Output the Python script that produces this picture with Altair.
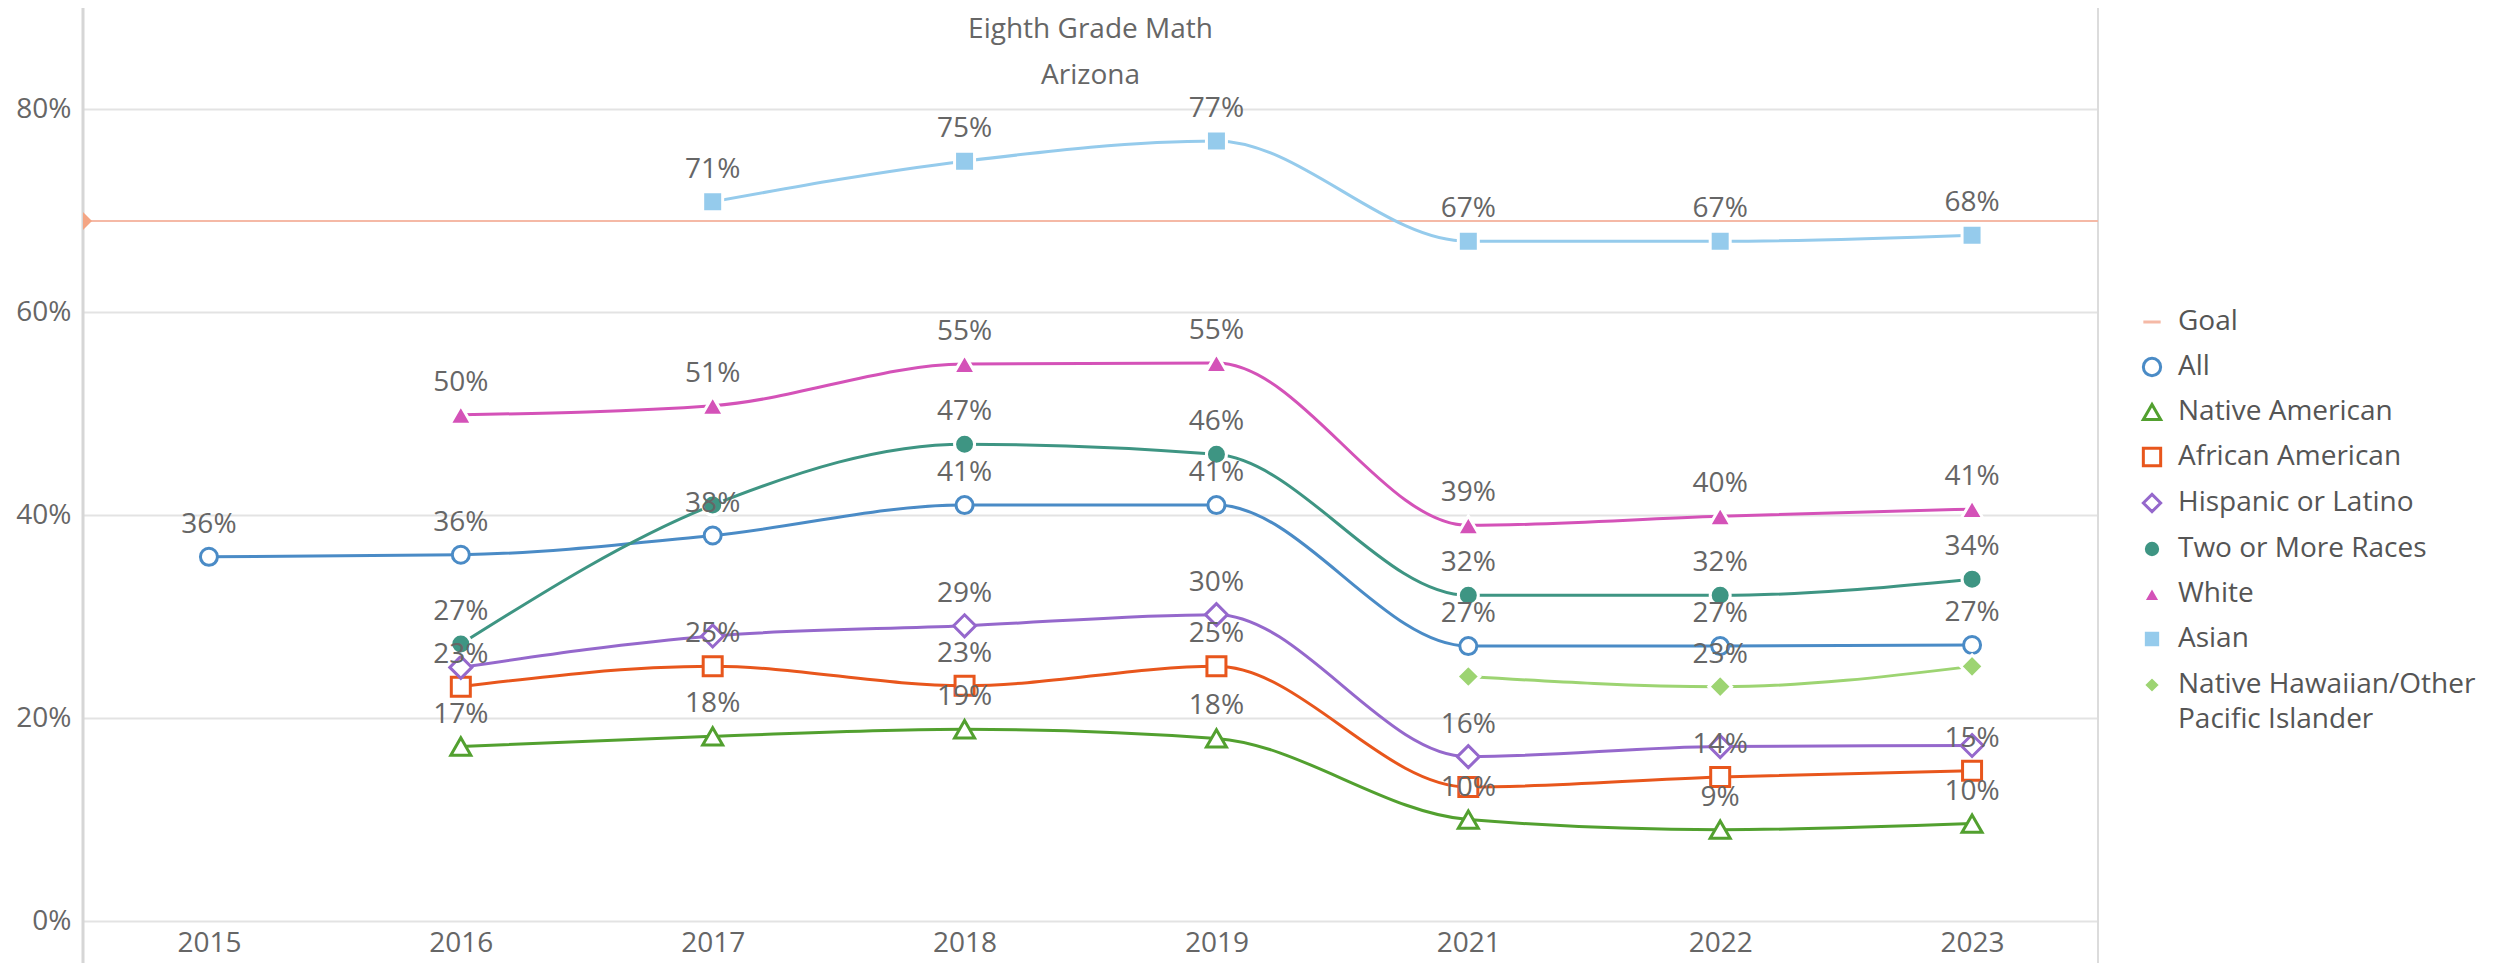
import altair as alt
import pandas as pd

# ---------------- data ----------------
years = ["2015", "2016", "2017", "2018", "2019", "2021", "2022", "2023"]

all_students     = [35.9, 36.1, 38.0, 41.0, 41.0, 27.1, 27.1, 27.2]
native_american  = [None, 17.2, 18.2, 18.9, 18.0, 10.0, 9.0, 9.6]
african_american = [None, 23.1, 25.1, 23.2, 25.1, 13.2, 14.2, 14.8]
hispanic_latino  = [None, 25.0, 28.1, 29.1, 30.2, 16.2, 17.2, 17.3]
two_or_more      = [None, 27.3, 41.0, 47.0, 46.0, 32.1, 32.1, 33.7]
white            = [None, 49.9, 50.8, 54.9, 55.0, 39.0, 39.9, 40.6]
asian            = [None, None, 70.9, 74.9, 76.9, 67.0, 67.0, 67.6]
nh_opi           = [None, None, None, None, None, 24.1, 23.1, 25.1]
goal_value = 69.0

series_names = [
    "All", "Native American", "African American", "Hispanic or Latino",
    "Two or More Races", "White", "Asian", "Native Hawaiian/Other Pacific Islander",
]
series_values = [all_students, native_american, african_american, hispanic_latino,
                 two_or_more, white, asian, nh_opi]

# data labels that the original chart hides because they collide
hidden_labels = [
    ("Hispanic or Latino", "2016"), ("Two or More Races", "2017"),
    ("Hispanic or Latino", "2017"), ("African American", "2021"),
    ("Native Hawaiian/Other Pacific Islander", "2021"),
    ("Hispanic or Latino", "2022"), ("Hispanic or Latino", "2023"),
    ("Native Hawaiian/Other Pacific Islander", "2023"),
]

goal_color = "#f5b9a6"
series_colors = ["#4a8bc6", "#52a02f", "#e8561c", "#9568cc",
                 "#3e9583", "#d452b8", "#95cbec", "#9dd472"]
series_sizes = [289, 400, 361, 484, 400, 480, 400, 520]

legend_domain = ["Goal"] + series_names
marker_strokes = [goal_color, "#4a8bc6", "#52a02f", "#e8561c", "#9568cc",
                  "#ffffff", "#ffffff", "#ffffff", "#ffffff"]
marker_fills = ["#ffffff", "#ffffff", "#ffffff", "#ffffff", "#ffffff",
                "#3e9583", "#d452b8", "#95cbec", "#9dd472"]
marker_shapes = ["stroke", "circle", "triangle-up", "square", "diamond",
                 "circle", "triangle-up", "square", "diamond"]

rows = []
for name, vals in zip(series_names, series_values):
    for yr, v in zip(years, vals):
        if v is not None:
            rows.append({"series": name, "year": yr, "value": v,
                         "show": (name, yr) not in hidden_labels})
df = pd.DataFrame(rows)
goal_df = pd.DataFrame({"series": ["Goal"], "value": [goal_value]})

FONT = "Open Sans"
PLOT_W, PLOT_H = 2015, 913
BOTTOM = 42

x_enc = alt.X("year:O", sort=years,
              scale=alt.Scale(type="point", padding=0.5, domain=years),
              axis=alt.Axis(title=None, labelAngle=0, labelFontSize=28, labelFont=FONT,
                            labelColor="#666666", labelPadding=8, ticks=False,
                            domain=False, grid=False))
y_enc = alt.Y("value:Q", scale=alt.Scale(domain=[0, 90], nice=False),
              axis=alt.Axis(title=None, values=[0, 20, 40, 60, 80],
                            labelExpr="datum.value + '%'", labelFontSize=28,
                            labelFont=FONT, labelColor="#666666", labelPadding=12,
                            ticks=False, domain=False, grid=True, gridColor="#e3e3e3",
                            gridWidth=2))

# scales without a visible legend use domains that differ from the legend scales,
# so that their hidden legends are not merged with the visible one
color_scale = alt.Scale(domain=series_names + ["Goal"], range=series_colors + [goal_color])
size_scale = alt.Scale(type="ordinal", domain=series_names, range=series_sizes)

legend_label_expr = ("datum.label == 'Native Hawaiian/Other Pacific Islander' ? "
                     "['Native Hawaiian/Other', 'Pacific Islander'] : datum.label")


def make_legend():
    return alt.Legend(
        title=None, orient="none", legendX=2055, legendY=300, padding=0,
        labelFontSize=28, labelFont=FONT, labelColor="#555555", labelLimit=600,
        symbolSize=300, symbolStrokeWidth=3, rowPadding=16, labelOffset=12,
        labelExpr=legend_label_expr,
    )


frame_left = alt.Chart(goal_df).mark_rule(color="#d6d6d6", strokeWidth=3).encode(
    x=alt.value(0), y=alt.value(0), y2=alt.value(PLOT_H + BOTTOM))
frame_right = alt.Chart(goal_df).mark_rule(color="#dcdcdc", strokeWidth=2).encode(
    x=alt.value(PLOT_W), y=alt.value(0), y2=alt.value(PLOT_H + BOTTOM))

goal_rule = alt.Chart(goal_df).mark_rule(strokeWidth=2).encode(
    y=alt.Y("value:Q"),
    color=alt.Color("series:N", scale=color_scale, legend=None),
)
goal_marker = alt.Chart(goal_df).mark_point(
    shape="M0,-1L1,0L0,1Z", filled=True, size=324, color="#f4a584", opacity=1
).encode(x=alt.value(0), y=alt.Y("value:Q"))

lines = alt.Chart(df).mark_line(interpolate="monotone", strokeWidth=3).encode(
    x=x_enc, y=y_enc,
    color=alt.Color("series:N", scale=color_scale, legend=None),
)

points = alt.Chart(df).mark_point(filled=False, opacity=1, strokeWidth=3).encode(
    x=x_enc, y=y_enc,
    stroke=alt.Stroke("series:N",
                      scale=alt.Scale(domain=legend_domain, range=marker_strokes),
                      legend=make_legend()),
    fill=alt.Fill("series:N",
                  scale=alt.Scale(domain=legend_domain, range=marker_fills),
                  legend=make_legend()),
    shape=alt.Shape("series:N",
                    scale=alt.Scale(domain=legend_domain, range=marker_shapes),
                    legend=make_legend()),
    size=alt.Size("series:N", scale=size_scale, legend=None),
)

labels = alt.Chart(df).transform_filter("datum.show").transform_calculate(
    label="format(datum.value, '.0f') + '%'"
).mark_text(dy=-32, fontSize=28, font=FONT, color="#666666").encode(
    x=x_enc, y=y_enc, text="label:N"
)

chart = alt.layer(frame_left, frame_right, goal_rule, lines, points, goal_marker,
                  labels).properties(
    width=PLOT_W, height=PLOT_H,
    padding={"left": 75, "top": 0, "right": 380, "bottom": BOTTOM},
    autosize=alt.AutoSizeParams(type="none"),
    title=alt.TitleParams(text="Eighth Grade Math", subtitle="Arizona",
                          anchor="middle", frame="group", orient="top", offset=-83,
                          fontSize=28, subtitleFontSize=28, font=FONT, subtitleFont=FONT,
                          fontWeight="normal", color="#666666", subtitleColor="#666666",
                          subtitlePadding=18),
).configure(
    style={"guide-label": {"lineHeight": 35}}
).configure_view(stroke=None)

chart.save("out.html", embed_options={"renderer": "svg", "actions": False})
